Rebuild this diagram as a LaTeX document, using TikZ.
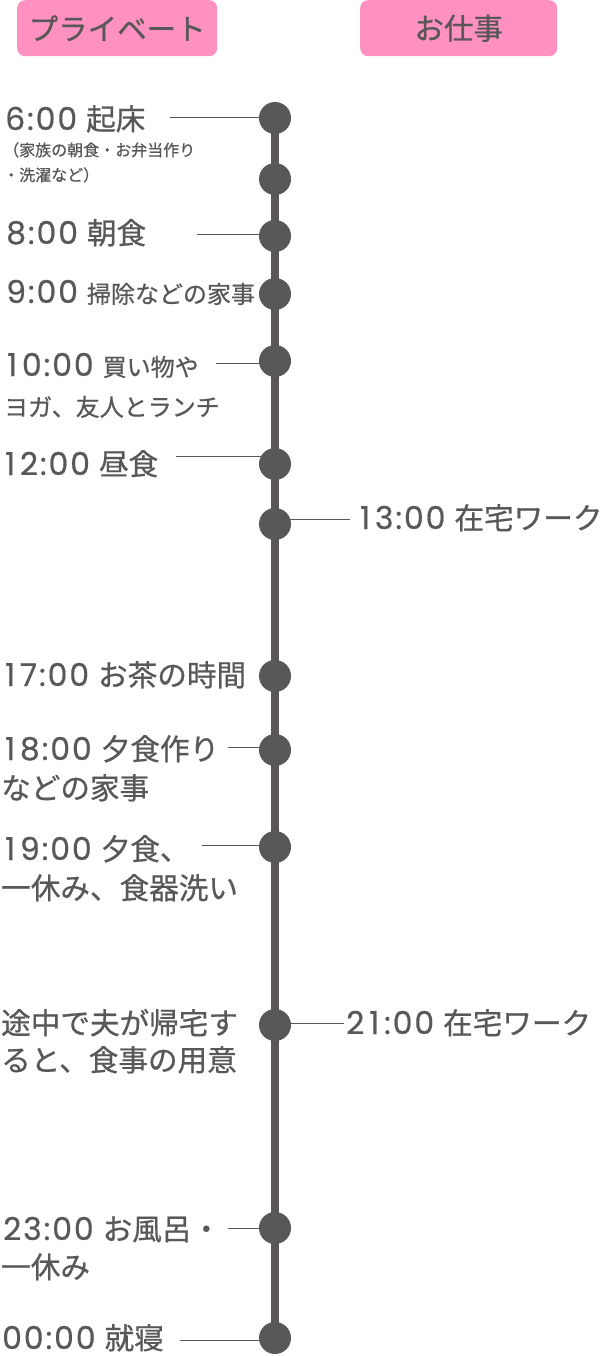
\documentclass[tikz,border=0pt]{standalone}
\usepackage{fontspec}
\setmainfont{Noto Sans CJK JP}[FakeBold=0.7]
\newfontfamily\dgf{Poppins}[LetterSpace=6,FakeBold=0.5]
\newlength\dw
\newcommand\one{\makebox[\dw]{1}}
\newcommand\dg[1]{\smash{\dgf\fontsize{31.5}{34}\selectfont\settowidth{\dw}{0}#1}\hspace*{9pt}}
\definecolor{ink}{HTML}{595757}
\definecolor{pinkbg}{HTML}{FF91C1}
\newcommand\fmain{\fontsize{29.6}{34}\selectfont}
\newcommand\fhead{\fontsize{29.5}{34}\selectfont}
\newcommand\fsub{\fontsize{24}{28}\selectfont}
\newcommand\fsmall{\fontsize{16}{20}\selectfont}
\tikzset{
  txt/.style={anchor=base west, inner sep=0pt, text=ink, font=\fmain},
  dot/.style={circle, fill=ink, minimum size=32pt, inner sep=0pt},
  conn/.style={draw=ink, line width=1pt},
  spine/.style={draw=ink, line width=8pt},
  head/.style={fill=pinkbg, rounded corners=8pt, text=ink, font=\fhead, inner sep=0pt}
}
\begin{document}
\begin{tikzpicture}[x=1pt,y=-1pt]
\useasboundingbox (0,0) rectangle (606,1356);
% headers
\node[head, minimum width=200pt, minimum height=56pt, anchor=north west] (hp) at (17,0) {プライベート};
\node[head, minimum width=197pt, minimum height=56pt, anchor=north west] (hw) at (360,0) {お仕事};
% dot positions
\coordinate (d1) at (275,118);
\coordinate (d2) at (275,179);
\coordinate (d3) at (275,236);
\coordinate (d4) at (275,294);
\coordinate (d5) at (275,361);
\coordinate (d6) at (275,464);
\coordinate (d7) at (275,524);
\coordinate (d8) at (275,676);
\coordinate (d9) at (275,750);
\coordinate (d10) at (275,847);
\coordinate (d11) at (275,1025);
\coordinate (d12) at (275,1228);
\coordinate (d13) at (275,1338);
% spine
\draw[spine] (d1) -- (d13);
% connector ends
\coordinate (c1) at (170,118);
\coordinate (c3) at (197,235);
\coordinate (c5) at (216,363);
\coordinate (c6) at (176,456);
\coordinate (c7) at (350,519);
\coordinate (c9) at (228,747);
\coordinate (c10) at (202,845);
\coordinate (c11) at (344,1023);
\coordinate (c12) at (228,1228);
\coordinate (c13) at (180,1340);
\draw[conn] (c1) -- (d1 |- c1);
\draw[conn] (c3) -- (d3 |- c3);
\draw[conn] (c5) -- (d5 |- c5);
\draw[conn] (c6) -- (d6 |- c6);
\draw[conn] (c7) -- (d7 |- c7);
\draw[conn] (c9) -- (d9 |- c9);
\draw[conn] (c10) -- (d10 |- c10);
\draw[conn] (c11) -- (d11 |- c11);
\draw[conn] (c12) -- (d12 |- c12);
\draw[conn] (c13) -- (d13 |- c13);
% dots
\foreach \i in {1,...,13} \node[dot] (n\i) at (d\i) {};
% labels
\node[txt] (t1) at (5,130) {\dg{6:00}起床};
\node[txt, font=\fsmall] (t1b) at (3,156) {（家族の朝食・お弁当作り};
\node[txt, font=\fsmall] (t1c) at (3,181) {・洗濯など）};
\node[txt] (t3) at (6,244) {\dg{8:00}朝食};
\node[txt] (t4) at (6,303) {\dg{9:00}{\fsub 掃除などの家事}};
\node[txt] (t5) at (2,376) {\dg{\one 0:00}{\fsub 買い物や}};
\node[txt, font=\fsub] (t5b) at (4,416) {ヨガ、友人とランチ};
\node[txt] (t6) at (0,475) {\dg{\one 2:00}昼食};
\node[txt] (t7) at (355,529) {\dg{\one 3:00}在宅ワーク};
\node[txt] (t8) at (0,686) {\dg{\one 7:00}お茶の時間};
\node[txt] (t9) at (0,760) {\dg{\one 8:00}夕食作り};
\node[txt] (t9b) at (1,799) {などの家事};
\node[txt] (t10) at (0,860) {\dg{\one 9:00}夕食、};
\node[txt] (t10b) at (1,899) {一休み、食器洗い};
\node[txt] (t11a) at (1,1034) {途中で夫が帰宅す};
\node[txt] (t11b) at (1,1071) {ると、食事の用意};
\node[txt] (t11) at (346,1034) {\dg{2\one:00}在宅ワーク};
\node[txt] (t12) at (3,1240) {\dg{23:00}お風呂・};
\node[txt] (t12b) at (1,1278) {一休み};
\node[txt] (t13) at (2,1349) {\dg{00:00}就寝};
\end{tikzpicture}
\end{document}
